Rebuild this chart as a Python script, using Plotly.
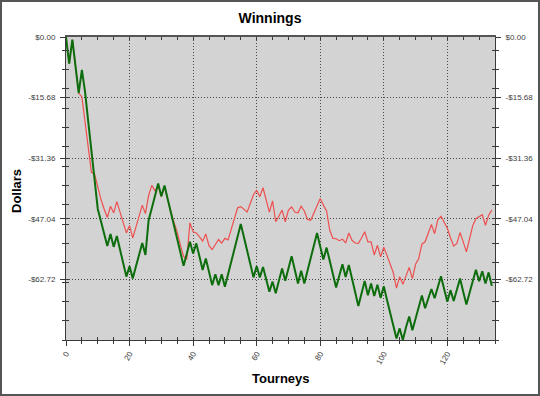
import plotly.graph_objects as go

tourneys = list(range(135))

green = [0, -6.9, -0.7, -7.6, -14.5, -8.5, -14.2, -21.9, -29.5, -37.1,
         -44.5, -47.7, -50.9, -54.1, -51, -54.3, -51.5, -55, -58.5, -62,
         -59.3, -62.5, -59.4, -56.3, -53.3, -56.4, -47.4, -44.3, -41.1, -37.9,
         -41.2, -38.4, -41.9, -45.4, -48.9, -52.4, -55.9, -59.2, -56.1, -53,
         -56, -53.4, -56.8, -60.3, -57.3, -60.8, -64.2, -61.4, -64.2, -61.4,
         -64.6, -61.4, -58, -54.9, -51.6, -48.4, -51.8, -55.3, -58.7, -62.2,
         -59.3, -62.2, -59.5, -62.7, -65.9, -63.3, -66.3, -63.1, -59.9, -63.1,
         -59.9, -56.7, -60.2, -63.8, -60.5, -63.8, -60.5, -57.2, -54, -50.7,
         -54.2, -57.6, -54.5, -58, -61.4, -64.8, -61.8, -58.8, -62.1, -59,
         -62.5, -66, -69.6, -66.4, -63.1, -66.8, -63.8, -67, -64.1, -67.5,
         -64.5, -68, -71.5, -74.8, -78, -75.4, -78.4, -75.1, -72.3, -75.9,
         -72.9, -69.8, -66.9, -70.2, -67.8, -65.2, -67.6, -64.7, -61.9, -65.2,
         -68.5, -65.5, -68.3, -65.4, -62.5, -65.9, -69.2, -66.2, -63.2, -60.2,
         -63.2, -60.6, -63.8, -60.9, -64.4]

red = [0, -6.9, -0.7, -7.6, -14.5, -15.5, -22.3, -29.1, -35, -35.5,
       -38.8, -42, -44.5, -46.7, -43.8, -45.5, -42.6, -45.5, -48.5, -50.7,
       -48.8, -52, -49.2, -46.3, -43.5, -45.7, -41, -38.4, -39.8, -38.5,
       -41.3, -38.8, -42.3, -45.3, -48, -50.5, -53.8, -56.8, -57.5, -48.1,
       -50.4, -50.7, -51.7, -52.8, -51, -54, -55, -53.7, -52.4, -53.3,
       -52.1, -52.5, -49.5, -46.5, -44.2, -43.9, -44.5, -45.3, -43, -40.8,
       -39.7, -41.3, -39, -42.2, -45.3, -42.4, -47.8, -46.3, -44.8, -47.8,
       -44.8, -44, -45.3, -45.5, -43.8, -45, -47.2, -47.4, -45.6, -43.7,
       -41.8, -43.5, -45, -50, -52.1, -52.2, -52.7, -52.3, -53.3, -50.7,
       -52.6, -53.3, -53.4, -52, -50.4, -53, -53, -56.4, -53.9, -56.9,
       -54.4, -56.5, -59, -61, -65, -62, -64, -61.8, -59.6, -62.5,
       -58.8, -57.3, -53.6, -53, -50.5, -48.5, -50.9, -47.3, -46.4, -47.8,
       -49.5, -52, -54.1, -53.4, -50.6, -53, -55.6, -52.2, -48.8, -47,
       -46.5, -46, -48.7, -46.1, -44.8]

x_ticks = [0, 20, 40, 60, 80, 100, 120]
x_labels = [str(v) for v in x_ticks]
y_ticks = [0, -15.68, -31.36, -47.04, -62.72]
y_labels = ["$0.00", "-$15.68", "-$31.36", "-$47.04", "-$62.72"]
x_range = [0, 135]
y_range = [-78.4, 0]

W, H = 540, 396
L, R, T, B = 66, 45, 37, 56
pw, ph = W - L - R, H - T - B

FONT = "Liberation Sans, Arial, sans-serif"
tickfont = dict(family=FONT, size=8, color="#404040")
AX = "#3a3a3a"

fig = go.Figure()
fig.add_trace(go.Scatter(x=tourneys, y=red, mode="lines",
                         line=dict(color="#ee5050", width=1.2),
                         showlegend=False, hoverinfo="skip"))
fig.add_trace(go.Scatter(x=tourneys, y=green, mode="lines",
                         line=dict(color="#0d6d0d", width=2.0),
                         showlegend=False, hoverinfo="skip"))

# invisible helper traces so every overlay axis is rendered
for xa, ya in [("x2", "y"), ("x3", "y"), ("x", "y2"), ("x", "y3"), ("x", "y4")]:
    fig.add_trace(go.Scatter(x=tourneys[:1], y=green[:1], xaxis=xa, yaxis=ya,
                             mode="lines", line=dict(width=0), opacity=0,
                             showlegend=False, hoverinfo="skip"))

xminor_out = dict(tickmode="linear", tick0=0, dtick=5, ticks="outside", ticklen=3, tickcolor=AX, showgrid=False)
xminor_in = dict(tickmode="linear", tick0=0, dtick=5, ticks="inside", ticklen=3, tickcolor=AX, showgrid=False)
yminor_out = dict(tickmode="linear", tick0=-78.4, dtick=5, ticks="outside", ticklen=3, tickcolor=AX, showgrid=False)
yminor_in = dict(tickmode="linear", tick0=-78.4, dtick=5, ticks="inside", ticklen=3, tickcolor=AX, showgrid=False)

fig.update_layout(
    width=W, height=H,
    autosize=False,
    margin=dict(l=L, r=R, t=T, b=B, pad=0, autoexpand=False),
    paper_bgcolor="white",
    plot_bgcolor="#d3d3d3",
    showlegend=False,
    title=dict(text="Winnings", x=0.5, xref="container", xanchor="center",
               y=1 - 18 / H, yref="container", yanchor="middle", automargin=False,
               font=dict(family=FONT, size=14, color="black", weight="bold")),
    xaxis=dict(range=x_range, tickmode="array", tickvals=x_ticks, ticktext=x_labels,
               tickangle=-60, tickfont=tickfont, ticks="outside", ticklen=5, tickcolor=AX,
               showline=True, linecolor=AX, linewidth=1, mirror=False, automargin=False,
               showgrid=True, gridcolor="#4a4a4a", gridwidth=1, griddash="1px,2px",
               zeroline=False, minor=xminor_out, fixedrange=True),
    xaxis2=dict(range=x_range, overlaying="x", anchor="y", side="bottom", automargin=False,
                tickmode="array", tickvals=x_ticks, ticks="inside", ticklen=3, tickcolor=AX,
                showticklabels=False, showgrid=False, showline=False, zeroline=False,
                minor=xminor_in, fixedrange=True),
    xaxis3=dict(range=x_range, overlaying="x", anchor="y", side="top", automargin=False,
                tickmode="array", tickvals=x_ticks, ticks="inside", ticklen=3, tickcolor=AX,
                showticklabels=False, showgrid=False, showline=True, linecolor="#555555",
                linewidth=2, zeroline=False, minor=xminor_in, fixedrange=True),
    yaxis=dict(range=y_range, tickmode="array", tickvals=y_ticks, ticktext=y_labels,
               tickfont=tickfont, ticks="outside", ticklen=5, tickcolor=AX,
               ticklabelstandoff=3, automargin=False,
               showline=True, linecolor=AX, linewidth=1,
               showgrid=True, gridcolor="#4a4a4a", gridwidth=1, griddash="1px,2px",
               zeroline=False, minor=yminor_out, fixedrange=True),
    yaxis2=dict(range=y_range, overlaying="y", anchor="x", side="right",
                tickmode="array", tickvals=y_ticks, ticktext=y_labels,
                tickfont=tickfont, ticks="outside", ticklen=5, tickcolor=AX,
                ticklabelstandoff=3, automargin=False,
                showline=True, linecolor=AX, linewidth=1, showgrid=False,
                zeroline=False, minor=yminor_out, fixedrange=True),
    yaxis3=dict(range=y_range, overlaying="y", anchor="x", side="left", automargin=False,
                tickmode="array", tickvals=y_ticks, ticks="inside", ticklen=3, tickcolor=AX,
                showticklabels=False, showgrid=False, showline=False, zeroline=False,
                minor=yminor_in, fixedrange=True),
    yaxis4=dict(range=y_range, overlaying="y", anchor="x", side="right", automargin=False,
                tickmode="array", tickvals=y_ticks, ticks="inside", ticklen=3, tickcolor=AX,
                showticklabels=False, showgrid=False, showline=False, zeroline=False,
                minor=yminor_in, fixedrange=True),
    annotations=[
        dict(text="Tourneys", xref="paper", yref="paper", x=0.5, y=(340 - 378.5) / ph,
             xanchor="center", yanchor="middle", showarrow=False,
             font=dict(family=FONT, size=13, color="black", weight="bold")),
        dict(text="Dollars", xref="paper", yref="paper", x=(17 - L) / pw, y=(H - B - 191) / ph,
             xanchor="center", yanchor="middle", textangle=-90, showarrow=False,
             font=dict(family=FONT, size=13, color="black", weight="bold")),
    ],
    shapes=[
        dict(type="rect", xref="paper", yref="paper",
             x0=-(L - 1) / pw, x1=1 + (R - 1) / pw,
             y0=-(B - 1) / ph, y1=1 + (T - 1) / ph,
             line=dict(color="#555555", width=2), layer="above"),
    ],
)

fig.write_html("out.html", config={"responsive": False, "displayModeBar": False})
